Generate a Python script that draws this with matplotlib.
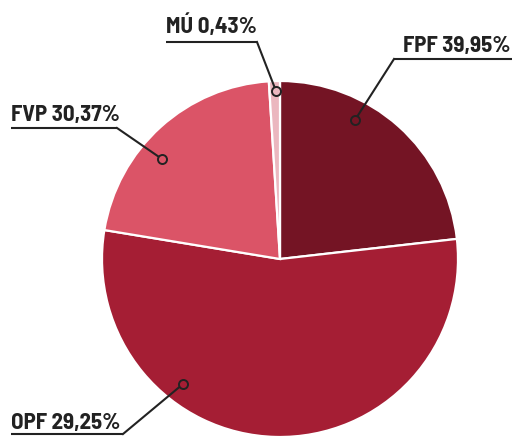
import matplotlib
matplotlib.use("Agg")
import matplotlib.pyplot as plt
from matplotlib import font_manager

# Data
categories = ["FPF", "OPF", "FVP", "MÚ"]
label_pcts = ["39,95%", "29,25%", "30,37%", "0,43%"]
slice_shares = [23.2, 54.4, 21.4, 1.0]  # visual slice sizes
colors = ["#741424", "#a51e34", "#db5467", "#ebb7bf"]

W, H = 514, 436
fig = plt.figure(figsize=(W / 100, H / 100), dpi=100)
ax = fig.add_axes([0, 0, 1, 1])

cx, cy, R = 280, H - 259, 178
wedges, _ = ax.pie(slice_shares, colors=colors, startangle=90, counterclock=False,
                   center=(cx, cy), radius=R,
                   wedgeprops=dict(edgecolor="white", linewidth=1.6))
ax.set_xlim(0, W)
ax.set_ylim(0, H)
ax.set_aspect("equal")
ax.axis("off")

fams = {f.name for f in font_manager.fontManager.ttflist}
fam = "Barlow Semi Condensed" if "Barlow Semi Condensed" in fams else "DejaVu Sans"
ink = "#222222"
font = dict(family=[fam, "DejaVu Sans"], weight="bold", size=16.5, color=ink)

# layout: (text left x, text baseline y, underline y, underline x0, x1, elbow x, dot x, dot y)
layout = {
    "FPF": (403, 52, 59, 394, 512, 394, 355, 120),
    "OPF": (11, 429, 434, 11, 123, 123, 183, 384),
    "FVP": (11, 121, 128, 11, 117, 117, 162, 159),
    "MÚ": (166, 33, 42, 166, 257, 257, 276, 91),
}

for cat, pct, col in zip(categories, label_pcts, colors):
    tx, ty, uy, ux0, ux1, ex, dx, dy = layout[cat]
    ax.text(tx, H - ty, f"{cat} {pct}", ha="left", va="baseline", **font)
    ax.plot([ux0, ux1], [H - uy, H - uy], color=ink, lw=1.5, solid_capstyle="butt")
    ax.plot([ex, dx], [H - uy, H - dy], color=ink, lw=1.5)
    ax.plot([dx], [H - dy], marker="o", ms=6.5, mfc=col, mec=ink, mew=1.4)

fig.savefig("out.png", dpi=100, facecolor="white")
